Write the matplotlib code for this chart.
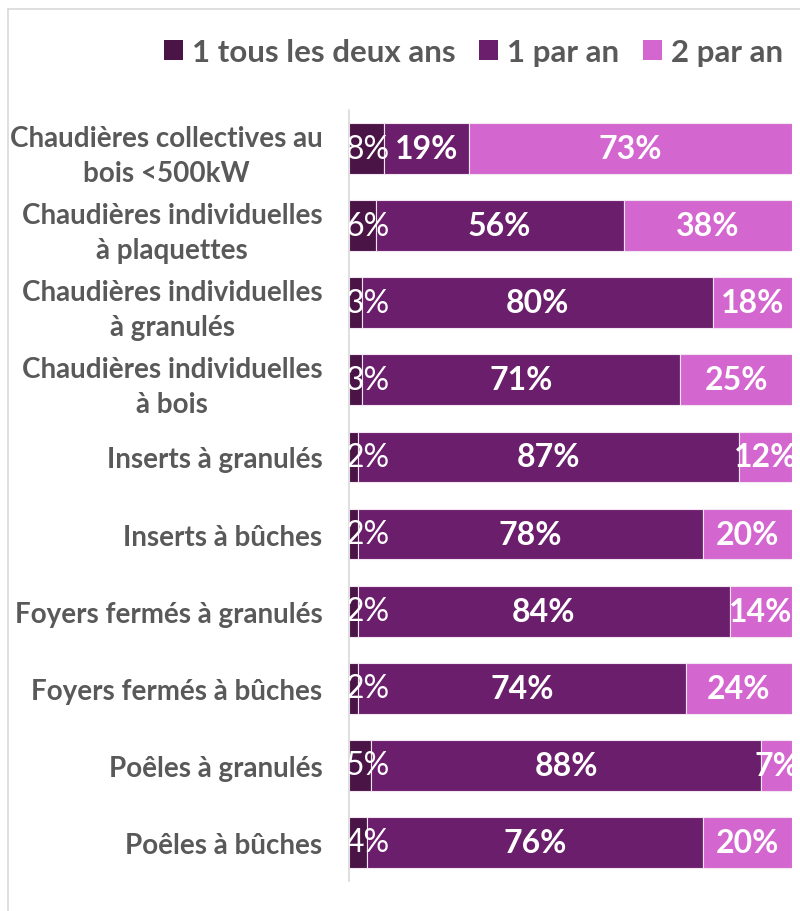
import matplotlib
matplotlib.use('Agg')
import matplotlib.pyplot as plt
from matplotlib.lines import Line2D
from matplotlib.patches import Patch
import numpy as np

# Fréquence de ramonage / entretien par type d'appareil
categories = [
    "Chaudières collectives au\nbois <500kW",
    "Chaudières individuelles\nà plaquettes",
    "Chaudières individuelles\nà granulés",
    "Chaudières individuelles\nà bois",
    "Inserts à granulés",
    "Inserts à bûches",
    "Foyers fermés à granulés",
    "Foyers fermés à bûches",
    "Poêles à granulés",
    "Poêles à bûches",
]
tous_deux_ans = [8, 6, 3, 3, 2, 2, 2, 2, 5, 4]
un_par_an = [19, 56, 80, 71, 87, 78, 84, 74, 88, 76]
deux_par_an = [73, 38, 18, 25, 12, 20, 14, 24, 7, 20]
series_names = ["1 tous les deux ans", "1 par an", "2 par an"]
colors = ["#4a1446", "#6b1e6b", "#d466d0"]

plt.rcParams['font.family'] = ['Lato', 'DejaVu Sans']
grey = "#595959"

fig = plt.figure(figsize=(8, 9.12), dpi=100)
ax = fig.add_axes([349 / 800, 1 - 882 / 912, 443 / 800, 771 / 912])

data = np.array([tous_deux_ans, un_par_an, deux_par_an], dtype=float)
shares = data / data.sum(axis=0) * 100  # barres empilées à 100 %
y = np.arange(len(categories))

left = np.zeros(len(categories))
for i, (name, col) in enumerate(zip(series_names, colors)):
    bars = ax.barh(y, shares[i], left=left, height=0.66, color=col,
                   edgecolor="#f3e6f2", linewidth=0.8, label=name)
    for b, val in zip(bars, data[i]):
        xc = b.get_x() + b.get_width() / 2
        if i == 0:
            # les petites étiquettes restent collées au bord gauche
            xc = max(xc, 4.2)
        ax.text(xc, b.get_y() + b.get_height() / 2,
                f"{val:.0f}%", ha="center", va="center", color="white",
                fontsize=23, fontweight="normal" if i == 0 else "bold",
                clip_on=True)
    left += shares[i]

ax.set_xlim(0, 100)
ax.set_ylim(len(categories) - 0.5, -0.5)
ax.set_yticks(y)
ax.set_yticklabels(categories, fontsize=20, fontweight="bold", color=grey,
                   multialignment="center", linespacing=1.42)
ax.tick_params(axis="y", length=0, pad=19)
ax.set_xticks([])
for s in ["top", "right", "bottom"]:
    ax.spines[s].set_visible(False)
ax.spines["left"].set_color("#d9d9d9")
ax.spines["left"].set_linewidth(1.2)

handles = [Patch(facecolor=c, edgecolor="none") for c in colors]
fig.legend(handles, series_names, loc="center left",
           bbox_to_anchor=(136 / 800, 1 - 53 / 912), ncol=3, frameon=False,
           prop={"size": 22.5, "weight": "bold"}, labelcolor=grey,
           handlelength=0.6, handleheight=0.6, handletextpad=0.3,
           columnspacing=0.75)

# cadre du graphique
fig.add_artist(Line2D([8 / 800, 8 / 800], [0, 1 - 10 / 912],
                      transform=fig.transFigure, color="#d9d9d9", lw=1.2))
fig.add_artist(Line2D([8 / 800, 1], [1 - 10 / 912, 1 - 10 / 912],
                      transform=fig.transFigure, color="#d9d9d9", lw=1.2))

fig.savefig("out.png", dpi=100)
